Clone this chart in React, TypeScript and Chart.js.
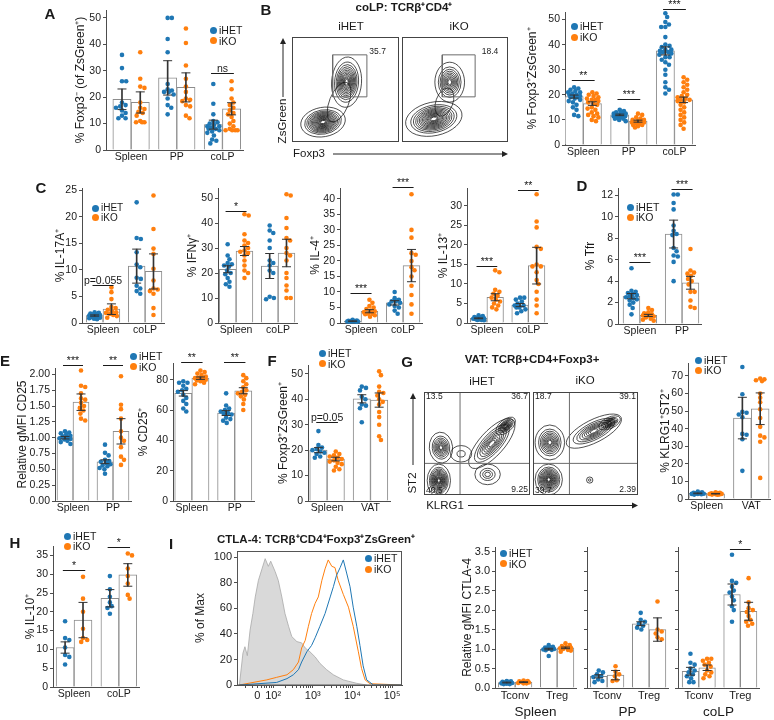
import React, { useEffect, useRef } from 'react';
import { Chart, registerables } from 'chart.js';

Chart.register(...registerables);

const FONT = "'Liberation Sans', Arial, Helvetica, sans-serif";
const BLUE = '#1f77b4';
const ORANGE = '#ff7f0e';
const INK = '#1a1a1a';
const AXIS = '#4d4d4d';
const BAR_EDGE = '#8c8c8c';
const ERR = '#333333';
const DOT_R = 2.3;
const OFF = 0.2;

Chart.defaults.font.family = FONT;
Chart.defaults.font.size = 10.5;
Chart.defaults.color = INK;

// ---------------- categories ----------------
const G_SPC = ['Spleen', 'PP', 'coLP'];
const G_SC = ['Spleen', 'coLP'];
const G_SP = ['Spleen', 'PP'];
const G_SV = ['Spleen', 'VAT'];
const G_TT = ['Tconv', 'Treg'];

// ---------------- A ----------------
const A_het = [[36, 31, 26, 26, 18, 17, 16.5, 16, 15, 14, 13, 12, 12], [50, 50, 42, 37, 25, 23, 22.5, 22, 22, 21, 19.5, 17, 16, 13.5], [25, 17.5, 13.5, 11, 10.5, 10, 9.5, 9, 9, 8.5, 8, 8, 7.5, 7, 6.5, 5.5, 4, 3.5, 2.5]];
const A_ko = [[37, 27, 24, 23.5, 18, 16, 15.5, 14.5, 14, 13, 11, 10.5, 10.5, 10.5], [46, 40.5, 32, 27, 24, 22, 19.5, 19, 18.5, 17, 16.5, 13, 12], [26, 23, 19.5, 18, 17, 16, 15, 14, 13.5, 12.5, 11, 10, 9, 8, 7.5, 7.5, 7.5, 7.5]];
const A_hetMean = [19.2, 27.3, 9.6];
const A_hetErr = [3.9, 6.5, 1.7];
const A_koMean = [18, 23.7, 15.6];
const A_koErr = [4, 5.5, 2.3];
const A_sigs = [{ g: 2, y: 29, t: 'ns' }];

// ---------------- B (bars) ----------------
const B_het = [[23, 22.5, 22, 21.5, 21, 21, 20.5, 20, 20, 19.5, 19.5, 19, 19, 18.5, 18, 17.5, 17, 16, 15, 14, 12, 11.5], [14, 13.5, 13, 13, 12.5, 12.5, 12, 12, 12, 11.5, 11.5, 11, 11, 10.5, 10.5, 10, 9.5], [52.5, 51, 49, 48, 47, 47, 43, 40, 39.5, 39, 38, 38, 37.5, 37, 37, 36.5, 36, 35, 35, 34, 33, 32, 30, 28, 25, 23, 22, 20.5]];
const B_ko = [[21, 20.5, 20, 19.5, 19, 18.5, 18, 18, 17.5, 17, 16.5, 16, 15, 14.5, 14, 13, 12.5, 12, 11.5, 11, 10, 9.5], [12.5, 12, 11, 10.5, 10, 10, 9.5, 9.5, 9, 9, 9, 8.5, 8.5, 8, 8, 7.5, 7], [27, 26, 25, 24, 23, 22, 21, 20, 19.5, 19, 18.5, 18, 18, 17.5, 17, 16, 15, 14, 13, 12, 11, 10, 9, 8, 6.5]];
const B_hetMean = [19.3, 12, 37.5];
const B_hetErr = [0.6, 0.3, 1.6];
const B_koMean = [16.5, 9.5, 18];
const B_koErr = [0.7, 0.4, 1.1];
const B_sigs = [{ g: 0, y: 26, t: '**' }, { g: 1, y: 18.5, t: '***' }, { g: 2, y: 54.3, t: '***' }];

// ---------------- C ----------------
const C1_het = [[2, 1.9, 1.8, 1.7, 1.6, 1.5, 1.4, 1.3, 1.2, 1.1, 1.0, 0.9, 0.8, 0.7], [22.7, 16, 15.8, 13.3, 11, 10.5, 8.5, 8.3, 7, 6.5, 6, 5.5]];
const C1_ko = [[6.7, 5.8, 4.5, 3, 2.8, 2.5, 2.2, 2, 1.9, 1.7, 1.5, 1.3, 1.0], [24, 17.7, 14, 13, 10.2, 8, 6.5, 6.3, 6, 5.5, 2.8, 1.5]];
const C1_hetMean = [1.4, 10.7];
const C1_hetErr = [0.12, 3.2];
const C1_koMean = [2.6, 9.7];
const C1_koErr = [1.0, 3.3];
const C1_sigs = [{ g: 0, y: 7.1, t: 'p=0.055' }];

const C2_het = [[31.5, 27, 25.5, 24, 23.5, 23, 22.5, 21, 20, 19.5, 18, 16.5, 15.5, 14.5], [39, 37, 36, 33, 30, 25, 24, 23, 21, 20, 10.5, 10, 9.5]];
const C2_ko = [[43.5, 43, 35.5, 33, 32, 31, 30, 29, 28.5, 28, 27, 25, 23, 21, 20, 18], [51.5, 51, 42, 38, 34, 33, 30, 28, 27, 25, 20, 18, 15, 13, 10, 10]];
const C2_hetMean = [21.5, 22.8];
const C2_hetErr = [1.4, 5];
const C2_koMean = [28.8, 28];
const C2_koErr = [1.8, 5.5];
const C2_sigs = [{ g: 0, y: 45, t: '*' }];

const C3_het = [[1, 0.8, 0.7, 0.6, 0.6, 0.5, 0.5, 0.5, 0.4, 0.4], [10, 8, 7.5, 7, 7, 6.5, 6, 5.5, 5, 4, 3]];
const C3_ko = [[7.5, 6.5, 5.5, 5, 4.5, 4, 3.8, 3.5, 3, 3, 2.8, 2.5, 2], [41.5, 30, 27.5, 22.5, 22, 20, 18, 17, 15, 12, 9, 6, 3]];
const C3_hetMean = [0.6, 6.5];
const C3_hetErr = [0.06, 0.7];
const C3_koMean = [3.8, 18.5];
const C3_koErr = [0.5, 5.2];
const C3_sigs = [{ g: 0, y: 9.7, t: '***' }, { g: 1, y: 43.9, t: '***' }];

const C4_het = [[2, 1.8, 1.5, 1.4, 1.3, 1.2, 1.1, 1.0, 0.9, 0.8, 0.8, 0.7], [6.5, 6.5, 6, 5.5, 5, 4.5, 4.5, 4, 4, 3.5, 3, 2.5]];
const C4_ko = [[13.5, 13, 8.5, 8, 7.5, 7, 6.5, 6, 5.5, 5, 4.5, 4, 3.5], [33, 26, 24.5, 19.5, 19, 15, 14.5, 14.5, 13, 11, 10, 8, 6, 4.5, 2.5]];
const C4_hetMean = [1.2, 4.6];
const C4_hetErr = [0.1, 0.4];
const C4_koMean = [6.6, 14.7];
const C4_koErr = [0.9, 4.7];
const C4_sigs = [{ g: 0, y: 14.6, t: '***' }, { g: 1, y: 34, t: '**' }];

// ---------------- D ----------------
const D_het = [[5.2, 3.1, 3.0, 2.9, 2.8, 2.7, 2.6, 2.5, 2.4, 2.3, 2.2, 2.0, 1.8, 1.5, 0.9], [12.1, 12.1, 11.3, 10.7, 9.2, 8.7, 8.4, 8.3, 7.1, 6.8, 6.4, 6.3, 5.8, 4.0]];
const D_ko = [[1.5, 1.3, 1.1, 1.0, 0.9, 0.9, 0.8, 0.8, 0.7, 0.6, 0.5, 0.4, 0.3], [7.0, 5.0, 4.8, 4.7, 4.5, 4.2, 4.0, 3.7, 3.0, 3.0, 2.2, 1.6, 1.5]];
const D_hetMean = [2.6, 8.4];
const D_hetErr = [0.25, 1.3];
const D_koMean = [0.8, 3.85];
const D_koErr = [0.1, 0.6];
const D_sigs = [{ g: 0, y: 5.75, t: '***' }, { g: 1, y: 12.6, t: '***' }];

// ---------------- E ----------------
const E1_het = [[1.1, 1.08, 1.07, 1.05, 1.03, 1.02, 1.0, 0.99, 0.98, 0.97, 0.95, 0.93, 0.9], [0.89, 0.76, 0.72, 0.65, 0.63, 0.62, 0.6, 0.58, 0.56, 0.55, 0.52, 0.5, 0.43]];
const E1_ko = [[2.06, 1.82, 1.8, 1.7, 1.62, 1.6, 1.55, 1.5, 1.47, 1.43, 1.38, 1.3, 1.27], [1.97, 1.52, 1.45, 1.3, 1.1, 1.0, 0.95, 0.85, 0.7, 0.65, 0.57]];
const E1_hetMean = [1.0, 0.62];
const E1_hetErr = [0.02, 0.03];
const E1_koMean = [1.56, 1.1];
const E1_koErr = [0.13, 0.2];
const E1_sigs = [{ g: 0, y: 2.15, t: '***' }, { g: 1, y: 2.15, t: '**' }];

const E2_het = [[79, 78, 78, 76, 74, 73, 72, 70, 68, 66, 64, 61, 59], [71, 63, 61, 60, 59, 58, 57.5, 57, 55, 54, 53, 51.5]];
const E2_ko = [[86, 85, 84, 83, 82, 81, 81, 80.5, 80, 79.5, 79, 78, 77], [83, 81, 79, 77, 75, 73, 72, 71, 70, 69, 67, 64, 60]];
const E2_hetMean = [71, 58];
const E2_hetErr = [1.8, 1.6];
const E2_koMean = [81, 72.7];
const E2_koErr = [0.8, 2];
const E2_sigs = [{ g: 0, y: 91.7, t: '**' }, { g: 1, y: 91.7, t: '**' }];

// ---------------- F ----------------
const F_het = [[27.5, 22, 21, 20.5, 20, 19.5, 19, 18.5, 17.5, 17], [45, 44.5, 43.5, 41, 40, 38, 37.5, 36.5, 31]];
const F_ko = [[19.5, 18.5, 18, 17.5, 17, 16.5, 16, 15.5, 15, 14.5, 13.5, 12.5, 12], [51, 49.5, 45, 43, 42.5, 41.5, 40, 39, 38, 35, 33, 30, 25.5, 24]];
const F_hetMean = [20, 40.2];
const F_hetErr = [1, 1.6];
const F_koMean = [16.5, 39.7];
const F_koErr = [0.7, 2.8];
const F_sigs = [{ g: 0, y: 31.1, t: 'p=0.05' }];

// ---------------- G (bars) ----------------
const G_het = [[4.2, 3.8, 3.5, 3.3, 3.2, 3.0, 2.9, 2.8, 2.7, 2.5], [75, 59.5, 49.5, 49, 48, 46.5, 37, 36.5, 34, 16]];
const G_ko = [[3.8, 3.5, 3.3, 3.2, 3.0, 2.9, 2.8, 2.7, 2.6, 2.5, 2.4], [68.5, 68, 67.5, 67, 60, 57.5, 55, 51, 46, 41, 36, 35, 32.5, 12]];
const G_hetMean = [3.2, 46];
const G_hetErr = [0.2, 11.8];
const G_koMean = [3.0, 51.3];
const G_koErr = [0.15, 9];

// ---------------- H ----------------
const H_het = [[17.5, 13, 12.5, 10.5, 8.5, 8, 6], [29.5, 26, 24, 22.5, 21.5, 21, 19.5]];
const H_ko = [[29.3, 23.5, 20, 15.5, 13, 12.5, 12], [35.5, 35, 31.5, 29.5, 27.5, 24.5, 23.5]];
const H_hetMean = [10.5, 23.6];
const H_hetErr = [1.5, 2.3];
const H_koMean = [17.8, 29.8];
const H_koErr = [4.7, 3];
const H_sigs = [{ g: 0, y: 31, t: '*' }, { g: 1, y: 37.2, t: '*' }];

// ---------------- I (bars) ----------------
const Isp_het = [[0.18, 0.17, 0.16, 0.15, 0.14, 0.13, 0.12, 0.11, 0.1, 0.1], [1.1, 1.06, 1.04, 1.02, 1.01, 1.0, 0.99, 0.98, 0.97, 0.82]];
const Isp_ko = [[0.19, 0.18, 0.17, 0.16, 0.15, 0.14, 0.13, 0.12, 0.12], [1.15, 1.1, 1.08, 1.05, 1.03, 1.02, 1.0, 0.98, 0.96, 0.93]];
const Isp_hetMean = [0.14, 1.0];
const Isp_hetErr = [0.01, 0.02];
const Isp_koMean = [0.15, 1.03];
const Isp_koErr = [0.01, 0.02];

const Ipp_het = [[0.45, 0.4, 0.35, 0.3, 0.28, 0.22, 0.18, 0.15], [1.93, 1.75, 1.7, 1.65, 1.6, 1.55, 1.5]];
const Ipp_ko = [[0.56, 0.42, 0.35, 0.3, 0.2, 0.18], [2.22, 1.5, 1.45, 1.4, 1.3, 1.25]];
const Ipp_hetMean = [0.3, 1.65];
const Ipp_hetErr = [0.04, 0.05];
const Ipp_koMean = [0.33, 1.5];
const Ipp_koErr = [0.12, 0.3];

const Ico_het = [[0.88, 0.65, 0.6, 0.5, 0.45, 0.4, 0.35, 0.3, 0.25, 0.15, 0.15], [3.42, 2.75, 2.7, 2.6, 2.5, 2.45, 2.35, 2.25, 2.1, 2.0, 1.7]];
const Ico_ko = [[0.75, 0.75, 0.7, 0.65, 0.6, 0.55, 0.45, 0.4, 0.35, 0.3, 0.25], [2.82, 2.2, 2.05, 2.0, 1.95, 1.85, 1.75, 1.7, 1.65, 1.6]];
const Ico_hetMean = [0.43, 2.4];
const Ico_hetErr = [0.1, 0.27];
const Ico_koMean = [0.52, 1.97];
const Ico_koErr = [0.07, 0.23];
const Ico_sigs = [{ g: 1, y: 3.58, t: '*' }];

// ---------------- I (histogram, x in decades) ----------------
const I_ctrlX = [1.15, 1.24, 1.29, 1.35, 1.42, 1.49, 1.55, 1.63, 1.72, 1.80, 1.88, 1.94, 2.05, 2.13, 2.22, 2.30, 2.39, 2.47, 2.60, 2.72, 2.81, 2.93, 3.06, 3.18, 3.35, 3.52, 3.77, 4.11, 4.36];
const I_ctrlY = [0, 25, 30, 23, 43, 56, 69, 82, 91, 99, 93, 97, 89, 82, 69, 56, 46, 38, 34, 33, 29, 26, 22, 17, 12, 8, 4, 1.3, 0];
const I_hetX = [1.15, 2.09, 2.35, 2.51, 2.64, 2.72, 2.85, 2.97, 3.06, 3.18, 3.31, 3.44, 3.52, 3.60, 3.69, 3.77, 3.86, 3.94, 4.02, 4.11, 4.19, 4.27, 4.36, 4.53, 5.25];
const I_hetY = [0, 2, 5, 8, 12, 18, 26, 31, 37, 46, 56, 69, 77, 86, 92, 98, 87, 77, 61, 46, 31, 15, 4, 0, 0];
const I_koX = [1.15, 1.84, 2.09, 2.35, 2.51, 2.64, 2.72, 2.81, 2.89, 2.97, 3.06, 3.14, 3.23, 3.31, 3.39, 3.48, 3.56, 3.64, 3.77, 3.90, 4.02, 4.15, 4.23, 4.32, 4.44, 5.25];
const I_koY = [0, 4, 6, 8, 12, 18, 29, 35, 46, 56, 64, 69, 82, 91, 98, 93, 92, 82, 71, 61, 46, 26, 13, 4, 1, 0];
const I_majorTicks = [1.6, 2, 3, 4, 5];
const I_majorLabels = ['0', '10²', '10³', '10⁴', '10⁵'];

// ---------------- flow plots: [cx, cy, rx, ry, rotationDeg, rings] in 0-100 units ----------------
const FB_hetPops = [[29, 19, 21, 14, 10, 16], [51, 57, 14, 24, -4, 13], [44, 38, 9, 20, -22, 1]];
const FB_koPops = [[30, 22, 27, 16, 12, 15], [45, 57, 14, 19, 0, 10], [40, 38, 8, 14, -20, 1]];
const FB_hetGate = [38, 43, 70, 83];
const FB_koGate = [38, 43, 69, 83];
const FB_hetNums = [{ x: 80, y: 86, t: '35.7', a: 'center' }];
const FB_koNums = [{ x: 83, y: 86, t: '18.4', a: 'center' }];

const FG_hetPops = [[14, 14, 11, 16, 0, 14], [16, 46, 11, 15, 5, 9], [64, 50, 30, 12, 48, 9], [77, 67, 11, 6, 40, 10], [60, 20, 12, 10, 0, 4], [35, 40, 10, 8, 0, 2]];
const FG_koPops = [[15, 15, 13, 15, 0, 14], [16, 51, 14, 17, 0, 10], [58, 62, 29, 11, 27, 9], [73, 70, 11, 5.5, 25, 10], [54, 14.5, 3, 3, 0, 2]];
const FG_hetQuad = [34, 30.7];
const FG_koQuad = [34.7, 30.7];
const FG_hetNums = [{ x: 2, y: 95, t: '13.5', a: 'left' }, { x: 98, y: 95, t: '36.7', a: 'right' }, { x: 2, y: 4, t: '40.5', a: 'left' }, { x: 98, y: 5, t: '9.25', a: 'right' }];
const FG_koNums = [{ x: 2, y: 95, t: '18.7', a: 'left' }, { x: 98, y: 95, t: '39.1', a: 'right' }, { x: 2, y: 4, t: '39.7', a: 'left' }, { x: 98, y: 5, t: '2.39', a: 'right' }];

// ---------------- helpers ----------------
function swarm(vals, cx, pxX, pxY, halfW) {
  const minD = DOT_R * 2 * 0.9;
  const placed = [];
  const out = [];
  const sorted = [...vals].sort((a, b) => b - a);
  for (const v of sorted) {
    const py = v * pxY;
    let best = 0;
    let bestScore = -Infinity;
    for (let k = 0; k < 80; k++) {
      const off = (k % 2 === 1 ? 1 : -1) * Math.ceil(k / 2) * 0.6;
      if (Math.abs(off) > halfW) break;
      let md = Infinity;
      for (const p of placed) {
        const d = Math.hypot(p.px - off, p.py - py);
        if (d < md) md = d;
      }
      if (md >= minD) { best = off; bestScore = Infinity; break; }
      if (md > bestScore) { bestScore = md; best = off; }
    }
    placed.push({ px: best, py });
    out.push({ x: cx + best / pxX, y: v });
  }
  return out;
}

const sigPlugin = (sigs) => ({
  id: 'sig',
  afterDraw(chart) {
    const { ctx } = chart;
    const xs = chart.scales.x;
    const ys = chart.scales.y;
    ctx.save();
    ctx.strokeStyle = INK;
    ctx.fillStyle = INK;
    ctx.lineWidth = 1;
    ctx.font = `10.5px ${FONT}`;
    ctx.textAlign = 'center';
    ctx.textBaseline = 'alphabetic';
    for (const s of sigs) {
      const x1 = xs.getPixelForValue(s.g - 0.25);
      const x2 = xs.getPixelForValue(s.g + 0.25);
      const yy = Math.round(ys.getPixelForValue(s.y)) + 0.5;
      ctx.beginPath();
      ctx.moveTo(x1, yy);
      ctx.lineTo(x2, yy);
      ctx.stroke();
      ctx.fillText(s.t, (x1 + x2) / 2, yy - 2);
    }
    ctx.restore();
  },
});

function BarDot({ c }) {
  const ref = useRef(null);
  const PAD_R = 4;
  const xH = c.xTitle ? 32 : 18;
  const cl = c.title ? Math.round(c.titleX - 7.2) : c.left - 6;
  const yW = c.left - cl;
  const ct = Math.round(c.top - 16);
  const padTop = c.top - ct;
  const W = Math.round(c.right + PAD_R - cl);
  const H = Math.round(c.bottom + xH - ct);

  useEffect(() => {
    const pxX = (c.right - c.left) / (c.xmax - c.xmin);
    const pxY = (c.bottom - c.top) / c.ymax;
    const half = OFF * pxX - DOT_R - 0.3;
    const hetDots = c.het.flatMap((vals, g) => swarm(vals, g - OFF, pxX, pxY, half));
    const koDots = c.ko.flatMap((vals, g) => swarm(vals, g + OFF, pxX, pxY, half));
    const hetBars = c.hetMean.map((m, g) => ({ x: g - OFF, y: m }));
    const koBars = c.koMean.map((m, g) => ({ x: g + OFF, y: m }));
    const stems = [
      ...c.hetMean.map((m, g) => ({ x: g - OFF, y: [m - c.hetErr[g], m + c.hetErr[g]] })),
      ...c.koMean.map((m, g) => ({ x: g + OFF, y: [m - c.koErr[g], m + c.koErr[g]] })),
    ];
    const caps = [
      ...c.hetMean.flatMap((m, g) => [{ x: g - OFF, y: m - c.hetErr[g] }, { x: g - OFF, y: m + c.hetErr[g] }]),
      ...c.koMean.flatMap((m, g) => [{ x: g + OFF, y: m - c.koErr[g] }, { x: g + OFF, y: m + c.koErr[g] }]),
    ];
    const fmt = (v) => (c.dec ? Number(v).toFixed(c.dec) : String(v));
    const barBase = { type: 'bar', backgroundColor: '#ffffff', borderColor: BAR_EDGE, borderWidth: 1, grouped: false, barPercentage: 1, categoryPercentage: 1, order: 4 };
    const chart = new Chart(ref.current, {
      type: 'bar',
      data: {
        datasets: [
          { ...barBase, label: 'iHET', data: hetBars },
          { ...barBase, label: 'iKO', data: koBars },
          { type: 'bar', label: 'sem', data: stems, backgroundColor: ERR, borderWidth: 0, barThickness: 1, grouped: false, order: 1 },
          { type: 'scatter', label: 'caps', data: caps, pointStyle: 'line', pointRadius: 4.5, borderColor: ERR, borderWidth: 1, order: 0, clip: false },
          { type: 'scatter', label: 'iHET pts', data: hetDots, backgroundColor: BLUE, borderWidth: 0, pointRadius: DOT_R, order: 2, clip: false },
          { type: 'scatter', label: 'iKO pts', data: koDots, backgroundColor: ORANGE, borderWidth: 0, pointRadius: DOT_R, order: 2, clip: false },
        ],
      },
      options: {
        animation: false,
        responsive: false,
        events: [],
        layout: { padding: { top: padTop, right: PAD_R, left: 0, bottom: 0 }, autoPadding: false },
        plugins: { legend: { display: false }, tooltip: { enabled: false } },
        scales: {
          x: {
            type: 'linear', min: c.xmin, max: c.xmax, offset: false, bounds: 'data',
            grid: { display: false, drawTicks: false, tickLength: 0, offset: false },
            border: { display: true, color: AXIS, width: 1 },
            afterBuildTicks: (s) => { s.ticks = c.groups.map((_, i) => ({ value: i })); },
            ticks: { callback: (_v, i) => c.groups[i], padding: 1, maxRotation: 0, autoSkip: false, color: INK, font: { size: c.xFont || 10.5 } },
            title: c.xTitle ? { display: true, text: c.xTitle, color: INK, font: { size: 13.5 }, padding: 0 } : { display: false },
            afterFit: (s) => { s.height = xH; s.paddingLeft = 0; s.paddingRight = 0; },
          },
          y: {
            type: 'linear', min: 0, max: c.ymax, bounds: 'data',
            grid: { display: true, drawOnChartArea: false, drawTicks: true, tickLength: 3, color: AXIS },
            border: { display: true, color: AXIS, width: 1 },
            afterBuildTicks: (s) => { s.ticks = c.yTicks.map((v) => ({ value: v })); },
            ticks: { callback: (v) => (c.noYLabels ? '' : fmt(v)), padding: 2, autoSkip: false, color: INK, font: { size: c.yFont || 10.5 } },
            title: c.title ? { display: true, text: c.title, color: INK, font: { size: 12 }, padding: 0 } : { display: false },
            afterFit: (s) => { s.width = yW; s.paddingTop = 0; s.paddingBottom = 0; },
          },
        },
      },
      plugins: [sigPlugin(c.sigs || [])],
    });
    return () => chart.destroy();
  }, []);

  return <canvas ref={ref} width={W} height={H} style={{ position: 'absolute', left: cl, top: ct, width: W, height: H }} />;
}

const contourPlugin = (pops) => ({
  id: 'contours',
  beforeDatasetsDraw(chart) {
    const { ctx, chartArea } = chart;
    const xs = chart.scales.x;
    const ys = chart.scales.y;
    ctx.save();
    ctx.beginPath();
    ctx.rect(chartArea.left, chartArea.top, chartArea.right - chartArea.left, chartArea.bottom - chartArea.top);
    ctx.clip();
    ctx.strokeStyle = '#151515';
    ctx.lineWidth = 0.75;
    for (const p of pops) {
      const [cx, cy, rx, ry, rot, n] = p;
      const px = xs.getPixelForValue(cx);
      const py = ys.getPixelForValue(cy);
      const rxp = Math.abs(xs.getPixelForValue(cx + rx) - px);
      const ryp = Math.abs(ys.getPixelForValue(cy + ry) - py);
      for (let k = 0; k < n; k++) {
        const s = 1 - 0.93 * Math.pow(k / n, 0.6);
        ctx.beginPath();
        ctx.ellipse(px, py, rxp * s, ryp * s, (-rot * Math.PI) / 180, 0, Math.PI * 2);
        ctx.stroke();
      }
    }
    ctx.restore();
  },
  afterDraw(chart) {
    const { ctx, chartArea } = chart;
    ctx.save();
    ctx.strokeStyle = '#444';
    ctx.lineWidth = 1;
    ctx.strokeRect(Math.round(chartArea.left) + 0.5, Math.round(chartArea.top) + 0.5, Math.round(chartArea.right - chartArea.left) - 1, Math.round(chartArea.bottom - chartArea.top) - 1);
    ctx.restore();
  },
});

const numPlugin = (nums) => ({
  id: 'nums',
  afterDraw(chart) {
    const { ctx } = chart;
    const xs = chart.scales.x;
    const ys = chart.scales.y;
    ctx.save();
    ctx.fillStyle = INK;
    ctx.font = `8.5px ${FONT}`;
    ctx.textBaseline = 'middle';
    for (const n of nums) {
      ctx.textAlign = n.a;
      ctx.fillText(n.t, xs.getPixelForValue(n.x), ys.getPixelForValue(n.y));
    }
    ctx.restore();
  },
});

function Flow({ box, pops, gate, quad, nums }) {
  const ref = useRef(null);
  useEffect(() => {
    const datasets = [];
    const line = { type: 'scatter', showLine: true, pointRadius: 0, borderColor: '#6b6b6b', borderWidth: 1, tension: 0 };
    if (gate) {
      const [x0, y0, x1, y1] = gate;
      datasets.push({ ...line, label: 'gate', data: [{ x: x0, y: y0 }, { x: x1, y: y0 }, { x: x1, y: y1 }, { x: x0, y: y1 }, { x: x0, y: y0 }] });
    }
    if (quad) {
      datasets.push({ ...line, label: 'qx', data: [{ x: quad[0], y: 0 }, { x: quad[0], y: 100 }] });
      datasets.push({ ...line, label: 'qy', data: [{ x: 0, y: quad[1] }, { x: 100, y: quad[1] }] });
    }
    const chart = new Chart(ref.current, {
      type: 'scatter',
      data: { datasets },
      options: {
        animation: false, responsive: false, events: [],
        layout: { padding: 0, autoPadding: false },
        plugins: { legend: { display: false }, tooltip: { enabled: false } },
        scales: {
          x: { type: 'linear', min: 0, max: 100, display: false },
          y: { type: 'linear', min: 0, max: 100, display: false },
        },
      },
      plugins: [contourPlugin(pops), numPlugin(nums)],
    });
    return () => chart.destroy();
  }, []);
  return <canvas ref={ref} width={box[2]} height={box[3]} style={{ position: 'absolute', left: box[0], top: box[1], width: box[2], height: box[3] }} />;
}

function Histo() {
  const ref = useRef(null);
  const L = 237, R = 402, T = 551, Bm = 685, titleX = 200;
  const cl = Math.round(titleX - 7.2);
  const ct = T - 8;
  const yW = L - cl;
  const xH = 20;
  const W = R - cl + 2;
  const H = Bm - ct + xH;
  useEffect(() => {
    const zip = (xs, ys) => xs.map((x, i) => ({ x, y: ys[i] }));
    const minors = [];
    for (let d = 1; d <= 4; d++) {
      for (let k = 2; k <= 9; k++) {
        const v = d + Math.log10(k);
        if (v > 1.1 && v < 5.25 && !I_majorTicks.some((m) => Math.abs(m - v) < 0.03)) minors.push(v);
      }
    }
    const allTicks = [...I_majorTicks, ...minors].sort((a, b) => a - b);
    const chart = new Chart(ref.current, {
      type: 'line',
      data: {
        datasets: [
          { label: 'iHET', data: zip(I_hetX, I_hetY), borderColor: BLUE, borderWidth: 1, pointRadius: 0, fill: false, tension: 0, order: 1 },
          { label: 'iKO', data: zip(I_koX, I_koY), borderColor: ORANGE, borderWidth: 1, pointRadius: 0, fill: false, tension: 0, order: 2 },
          { label: 'control', data: zip(I_ctrlX, I_ctrlY), borderColor: '#a8a8a8', backgroundColor: '#d9d9d9', borderWidth: 0.8, pointRadius: 0, fill: 'origin', tension: 0, order: 3 },
        ],
      },
      options: {
        animation: false, responsive: false, events: [],
        layout: { padding: { top: T - ct, right: 2, left: 0, bottom: 0 }, autoPadding: false },
        plugins: { legend: { display: false }, tooltip: { enabled: false } },
        scales: {
          x: {
            type: 'linear', min: 1.09, max: 5.25, bounds: 'data',
            grid: { display: true, drawOnChartArea: false, drawTicks: true, tickLength: 3, color: AXIS },
            border: { display: true, color: AXIS },
            afterBuildTicks: (s) => { s.ticks = allTicks.map((v) => ({ value: v })); },
            ticks: {
              autoSkip: false, maxRotation: 0, padding: 1, color: INK, font: { size: 11 },
              callback: (v) => {
                const i = I_majorTicks.findIndex((m) => Math.abs(m - v) < 1e-6);
                return i >= 0 ? I_majorLabels[i] : '';
              },
            },
            afterFit: (s) => { s.height = xH; s.paddingLeft = 0; s.paddingRight = 0; },
          },
          y: {
            type: 'linear', min: 0, max: 105, bounds: 'data',
            grid: { display: true, drawOnChartArea: false, drawTicks: true, tickLength: 3, color: AXIS },
            border: { display: true, color: AXIS },
            afterBuildTicks: (s) => { s.ticks = [0, 20, 40, 60, 80, 100].map((v) => ({ value: v })); },
            ticks: { padding: 2, color: INK, font: { size: 11 } },
            title: { display: true, text: '% of Max', color: INK, font: { size: 12 }, padding: 0 },
            afterFit: (s) => { s.width = yW; s.paddingTop = 0; s.paddingBottom = 0; },
          },
        },
      },
      plugins: [{
        id: 'frame',
        afterDraw(chart) {
          const { ctx, chartArea: a } = chart;
          ctx.save();
          ctx.strokeStyle = '#555';
          ctx.lineWidth = 1;
          ctx.strokeRect(Math.round(a.left) + 0.5, Math.round(a.top) + 0.5, Math.round(a.right - a.left) - 1, Math.round(a.bottom - a.top) - 0.5);
          ctx.restore();
        },
      }],
    });
    return () => chart.destroy();
  }, []);
  return <canvas ref={ref} width={W} height={H} style={{ position: 'absolute', left: cl, top: ct, width: W, height: H }} />;
}

function Txt({ x, y, s = 11, b = false, a = 'c', r = 0, children }) {
  const tx = a === 'c' ? '-50%' : a === 'l' ? '0' : '-100%';
  return (
    <div style={{ position: 'absolute', left: x, top: y, transform: `translate(${tx},-50%) rotate(${r}deg)`, fontSize: s, fontWeight: b ? 700 : 400, whiteSpace: 'nowrap', lineHeight: 1, color: INK, fontFamily: FONT }}>
      {children}
    </div>
  );
}

function Legend({ x, y1, y2, s = 10.5 }) {
  const rows = [['iHET', BLUE, y1], ['iKO', ORANGE, y2]];
  return (
    <>
      {rows.map(([t, col, y]) => (
        <React.Fragment key={t}>
          <div style={{ position: 'absolute', left: x - 3.5, top: y - 3.5, width: 7, height: 7, borderRadius: '50%', background: col }} />
          <Txt x={x + 6} y={y} s={s} a="l">{t}</Txt>
        </React.Fragment>
      ))}
    </>
  );
}

const ARROWS = [[283, 97, 283, 38], [333, 154, 508, 154], [413, 465, 413, 393], [468, 505.5, 638, 505.5]];

function Arrows() {
  return (
    <svg width={774} height={720} style={{ position: 'absolute', left: 0, top: 0, pointerEvents: 'none' }}>
      {ARROWS.map(([x1, y1, x2, y2], i) => {
        const ang = Math.atan2(y2 - y1, x2 - x1);
        const L = 6, Wd = 3;
        const bx = x2 - L * Math.cos(ang), by = y2 - L * Math.sin(ang);
        const p1 = `${bx + Wd * Math.sin(ang)},${by - Wd * Math.cos(ang)}`;
        const p2 = `${bx - Wd * Math.sin(ang)},${by + Wd * Math.cos(ang)}`;
        return (
          <g key={i}>
            <line x1={x1} y1={y1} x2={bx} y2={by} stroke="#222" strokeWidth={1} />
            <polygon points={`${x2},${y2} ${p1} ${p2}`} fill="#222" />
          </g>
        );
      })}
    </svg>
  );
}

const mk = (geo, groups, het, ko, hm, he, km, ke, extra) => ({ ...geo, groups, het, ko, hetMean: hm, hetErr: he, koMean: km, koErr: ke, ...extra });

const CFG = {
  A: mk({ left: 106, right: 243, top: 10, bottom: 150, xmin: -0.55, xmax: 2.45, ymax: 53 }, G_SPC, A_het, A_ko, A_hetMean, A_hetErr, A_koMean, A_koErr, { yTicks: [0, 10, 20, 30, 40, 50], title: '% Foxp3⁻ (of ZsGreen⁺)', titleX: 80, sigs: A_sigs }),
  B: mk({ left: 565, right: 695, top: 12, bottom: 145, xmin: -0.4, xmax: 2.45, ymax: 53 }, G_SPC, B_het, B_ko, B_hetMean, B_hetErr, B_koMean, B_koErr, { yTicks: [0, 10, 20, 30, 40, 50], title: '% Foxp3⁺ZsGreen⁺', titleX: 532, sigs: B_sigs }),
  C1: mk({ left: 82, right: 164, top: 188, bottom: 323, xmin: -0.5, xmax: 1.45, ymax: 25.4 }, G_SC, C1_het, C1_ko, C1_hetMean, C1_hetErr, C1_koMean, C1_koErr, { yTicks: [0, 5, 10, 15, 20, 25], title: '% IL-17A⁺', titleX: 60, sigs: C1_sigs }),
  C2: mk({ left: 218, right: 297, top: 188, bottom: 323, xmin: -0.43, xmax: 1.45, ymax: 54 }, G_SC, C2_het, C2_ko, C2_hetMean, C2_hetErr, C2_koMean, C2_koErr, { yTicks: [0, 10, 20, 30, 40, 50], title: '% IFNγ⁺', titleX: 192, sigs: C2_sigs }),
  C3: mk({ left: 340, right: 422, top: 188, bottom: 323, xmin: -0.5, xmax: 1.45, ymax: 43.5 }, G_SC, C3_het, C3_ko, C3_hetMean, C3_hetErr, C3_koMean, C3_koErr, { yTicks: [0, 5, 10, 15, 20, 25, 30, 35, 40], title: '% IL-4⁺', titleX: 315, sigs: C3_sigs }),
  C4: mk({ left: 467, right: 547, top: 188, bottom: 323, xmin: -0.48, xmax: 1.45, ymax: 34.6 }, G_SC, C4_het, C4_ko, C4_hetMean, C4_hetErr, C4_koMean, C4_koErr, { yTicks: [0, 5, 10, 15, 20, 25, 30], title: '% IL-13⁺', titleX: 443, sigs: C4_sigs }),
  D: mk({ left: 618, right: 701, top: 188, bottom: 323.5, xmin: -0.52, xmax: 1.45, ymax: 12.7 }, G_SP, D_het, D_ko, D_hetMean, D_hetErr, D_koMean, D_koErr, { yTicks: [0, 2, 4, 6, 8, 10, 12], title: '% Tfr', titleX: 590, sigs: D_sigs }),
  E1: mk({ left: 55, right: 131, top: 368, bottom: 501, xmin: -0.45, xmax: 1.45, ymax: 2.1 }, G_SP, E1_het, E1_ko, E1_hetMean, E1_hetErr, E1_koMean, E1_koErr, { yTicks: [0, 0.25, 0.5, 0.75, 1, 1.25, 1.5, 1.75, 2], dec: 2, title: 'Relative gMFI CD25', titleX: 22, sigs: E1_sigs }),
  E2: mk({ left: 173, right: 254, top: 363, bottom: 501, xmin: -0.44, xmax: 1.45, ymax: 91 }, G_SP, E2_het, E2_ko, E2_hetMean, E2_hetErr, E2_koMean, E2_koErr, { yTicks: [0, 20, 40, 60, 80], title: '% CD25⁺', titleX: 143, sigs: E2_sigs }),
  F: mk({ left: 308, right: 390, top: 365, bottom: 501, xmin: -0.44, xmax: 1.45, ymax: 53.5 }, G_SV, F_het, F_ko, F_hetMean, F_hetErr, F_koMean, F_koErr, { yTicks: [0, 10, 20, 30, 40, 50], title: '% Foxp3⁺ZsGreen⁺', titleX: 283, sigs: F_sigs }),
  G: mk({ left: 688, right: 770, top: 363, bottom: 499, xmin: -0.42, xmax: 1.42, ymax: 77.3 }, G_SV, G_het, G_ko, G_hetMean, G_hetErr, G_koMean, G_koErr, { yTicks: [0, 10, 20, 30, 40, 50, 60, 70], title: '% KLRG1⁺ST2⁺', titleX: 665, sigs: [] }),
  H: mk({ left: 53, right: 139, top: 546, bottom: 687, xmin: -0.47, xmax: 1.45, ymax: 37.5 }, G_SC, H_het, H_ko, H_hetMean, H_hetErr, H_koMean, H_koErr, { yTicks: [0, 5, 10, 15, 20, 25, 30, 35], title: '% IL-10⁺', titleX: 30, sigs: H_sigs }),
  I1: mk({ left: 495, right: 576, top: 547, bottom: 688, xmin: -0.48, xmax: 1.45, ymax: 3.62 }, G_TT, Isp_het, Isp_ko, Isp_hetMean, Isp_hetErr, Isp_koMean, Isp_koErr, { yTicks: [0, 0.5, 1, 1.5, 2, 2.5, 3, 3.5], dec: 1, title: 'Relative gMFI CTLA-4', titleX: 467, sigs: [], xTitle: 'Spleen', xFont: 11, yFont: 11 }),
  I2: mk({ left: 587, right: 668, top: 547, bottom: 688, xmin: -0.48, xmax: 1.45, ymax: 3.62 }, G_TT, Ipp_het, Ipp_ko, Ipp_hetMean, Ipp_hetErr, Ipp_koMean, Ipp_koErr, { yTicks: [0, 0.5, 1, 1.5, 2, 2.5, 3, 3.5], noYLabels: true, sigs: [], xTitle: 'PP', xFont: 11 }),
  I3: mk({ left: 678, right: 759, top: 547, bottom: 688, xmin: -0.5, xmax: 1.45, ymax: 3.62 }, G_TT, Ico_het, Ico_ko, Ico_hetMean, Ico_hetErr, Ico_koMean, Ico_koErr, { yTicks: [0, 0.5, 1, 1.5, 2, 2.5, 3, 3.5], noYLabels: true, sigs: Ico_sigs, xTitle: 'coLP', xFont: 11 }),
};

export default function App() {
  return (
    <div style={{ position: 'absolute', left: 0, top: 0, width: 774, height: 720, background: '#fff', overflow: 'hidden', fontFamily: FONT }}>
      {Object.entries(CFG).map(([k, c]) => <BarDot key={k} c={c} />)}
      <Flow box={[292, 37, 107, 105]} pops={FB_hetPops} gate={FB_hetGate} nums={FB_hetNums} />
      <Flow box={[402, 37, 106, 105]} pops={FB_koPops} gate={FB_koGate} nums={FB_koNums} />
      <Flow box={[424, 392, 106, 103]} pops={FG_hetPops} quad={FG_hetQuad} nums={FG_hetNums} />
      <Flow box={[533, 392, 105, 103]} pops={FG_koPops} quad={FG_koQuad} nums={FG_koNums} />
      <Histo />
      <Arrows />

      {/* panel letters */}
      <Txt x={50} y={13} s={15} b>A</Txt>
      <Txt x={266} y={9} s={15} b>B</Txt>
      <Txt x={41} y={187} s={15} b>C</Txt>
      <Txt x={582} y={185} s={15} b>D</Txt>
      <Txt x={5} y={360} s={15} b>E</Txt>
      <Txt x={272} y={360} s={15} b>F</Txt>
      <Txt x={407} y={361} s={15} b>G</Txt>
      <Txt x={15} y={542} s={15} b>H</Txt>
      <Txt x={171} y={543} s={15} b>I</Txt>

      {/* legends */}
      <Legend x={213} y1={30} y2={40.7} />
      <Legend x={574} y1={26} y2={37} />
      <Legend x={95} y1={208} y2={217.5} s={10} />
      <Legend x={630} y1={207} y2={217} />
      <Legend x={133} y1={356} y2={366.5} />
      <Legend x={322} y1={353} y2={363.5} />
      <Legend x={698} y1={360} y2={370} />
      <Legend x={67} y1={536} y2={546} />
      <Legend x={368} y1={558} y2={569} />
      <Legend x={503} y1={553} y2={563.5} />

      {/* flow plot texts */}
      <Txt x={404} y={8} s={11.5} b>coLP: TCRβ⁺CD4⁺</Txt>
      <Txt x={351} y={27} s={11.5}>iHET</Txt>
      <Txt x={459} y={27} s={11.5}>iKO</Txt>
      <Txt x={283} y={121} s={11.5} r={-90}>ZsGreen</Txt>
      <Txt x={309} y={154} s={11.5}>Foxp3</Txt>

      <Txt x={532} y={360} s={11.5} b>VAT: TCRβ+CD4+Foxp3+</Txt>
      <Txt x={482} y={382} s={11.5}>iHET</Txt>
      <Txt x={585} y={381} s={11.5}>iKO</Txt>
      <Txt x={413} y={483} s={11.5} r={-90}>ST2</Txt>
      <Txt x={445} y={505.5} s={11.5}>KLRG1</Txt>

      <Txt x={217} y={540} s={11.5} b a="l">CTLA-4: TCRβ⁺CD4⁺Foxp3⁺ZsGreen⁺</Txt>
    </div>
  );
}
